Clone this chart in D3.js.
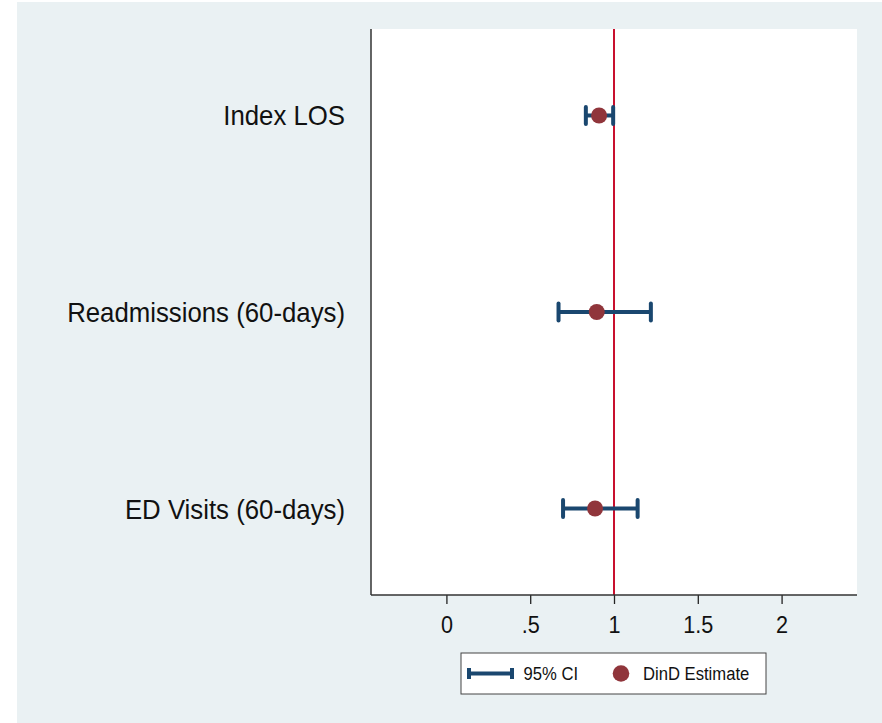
<!DOCTYPE html>
<html><head><meta charset="utf-8">
<script src="https://cdn.jsdelivr.net/npm/d3@7"></script>
<style>html,body{margin:0;padding:0;background:#fff;}svg{display:block;}</style>
</head><body>
<script>
const categories = ["Index LOS", "Readmissions (60-days)", "ED Visits (60-days)"];
const estimates = [0.911, 0.897, 0.887];
const ciLower = [0.832, 0.669, 0.696];
const ciUpper = [0.995, 1.220, 1.141];
const xTicks = [0, 0.5, 1, 1.5, 2];
const xTickLabels = ["0", ".5", "1", "1.5", "2"];
const refValue = 1;
const legendLabels = ["95% CI", "DinD Estimate"];

const W = 882, H = 723;
const navy = "#1a476f", maroon = "#90353b", red = "#c8102e", bg = "#eaf1f3";
const sx = 0.9;
const svg = d3.select("body").append("svg").attr("width", W).attr("height", H);
svg.append("rect").attr("x", 17).attr("y", 2).attr("width", W - 17).attr("height", H - 2).attr("fill", bg);

const plot = {l: 371, r: 857, t: 29, b: 595};
svg.append("rect").attr("x", plot.l).attr("y", plot.t).attr("width", plot.r - plot.l).attr("height", plot.b - plot.t).attr("fill", "#fff");

const x = d3.scaleLinear().domain([-0.45, 2.45]).range([plot.l, plot.r]);
const y = d3.scaleLinear().domain([0.56, 3.44]).range([plot.t, plot.b]);

// reference line
svg.append("line").attr("x1", x(refValue)).attr("x2", x(refValue)).attr("y1", plot.t).attr("y2", plot.b)
  .attr("stroke", red).attr("stroke-width", 2);

// axes
const xAxis = d3.axisBottom(x).tickValues(xTicks).tickFormat((d, i) => xTickLabels[i]).tickSize(9).tickPadding(5);
const gx = svg.append("g").attr("transform", `translate(0,${plot.b})`).call(xAxis);
gx.select(".domain").remove();
gx.selectAll(".tick line").attr("stroke", "#222").attr("stroke-width", 1.3);
gx.selectAll(".tick text").attr("font-family", "Liberation Sans, Arial, sans-serif").attr("font-size", 24).attr("fill", "#111")
  .attr("dy", null).attr("y", 0)
  .attr("transform", `translate(0,38) scale(${sx},1)`);

svg.append("line").attr("x1", plot.l).attr("x2", plot.l).attr("y1", plot.t).attr("y2", plot.b).attr("stroke", "#333").attr("stroke-width", 1.5);
svg.append("line").attr("x1", plot.l).attr("x2", plot.r).attr("y1", plot.b).attr("y2", plot.b).attr("stroke", "#333").attr("stroke-width", 1.5);

// category labels
svg.append("g").selectAll("text").data(categories).join("text")
  .attr("transform", (d, i) => `translate(345,${y(i + 1) + 10}) scale(0.905,1)`)
  .attr("text-anchor", "end").attr("font-family", "Liberation Sans, Arial, sans-serif").attr("font-size", 28.5).attr("fill", "#111")
  .text(d => d);

// CI bars
const capH = 8.5;
const g = svg.append("g");
categories.forEach((c, i) => {
  const yy = y(i + 1);
  g.append("line").attr("x1", x(ciLower[i])).attr("x2", x(ciUpper[i])).attr("y1", yy).attr("y2", yy)
    .attr("stroke", navy).attr("stroke-width", 4);
  [ciLower[i], ciUpper[i]].forEach(v => {
    g.append("line").attr("x1", x(v)).attr("x2", x(v)).attr("y1", yy - capH).attr("y2", yy + capH)
      .attr("stroke", navy).attr("stroke-width", 4).attr("stroke-linecap", "round");
  });
});
g.selectAll("circle").data(estimates).join("circle")
  .attr("cx", d => x(d)).attr("cy", (d, i) => y(i + 1)).attr("r", 8).attr("fill", maroon);

// legend
const lg = svg.append("g");
lg.append("rect").attr("x", 461).attr("y", 653).attr("width", 305).attr("height", 41).attr("fill", "#fff").attr("stroke", "#444").attr("stroke-width", 1);
const ly = 673.5;
lg.append("line").attr("x1", 469).attr("x2", 512).attr("y1", ly).attr("y2", ly).attr("stroke", navy).attr("stroke-width", 4);
[469, 512].forEach(xx => lg.append("line").attr("x1", xx).attr("x2", xx).attr("y1", ly - 5.5).attr("y2", ly + 5.5).attr("stroke", navy).attr("stroke-width", 4));
lg.append("circle").attr("cx", 621).attr("cy", ly).attr("r", 8.3).attr("fill", maroon);
lg.selectAll("text").data(legendLabels).join("text")
  .attr("transform", (d, i) => `translate(${i === 0 ? 523.5 : 643},${ly + 6.5}) scale(${sx},1)`)
  .attr("font-family", "Liberation Sans, Arial, sans-serif").attr("font-size", 18.5).attr("fill", "#111")
  .text(d => d);
</script>
</body></html>
